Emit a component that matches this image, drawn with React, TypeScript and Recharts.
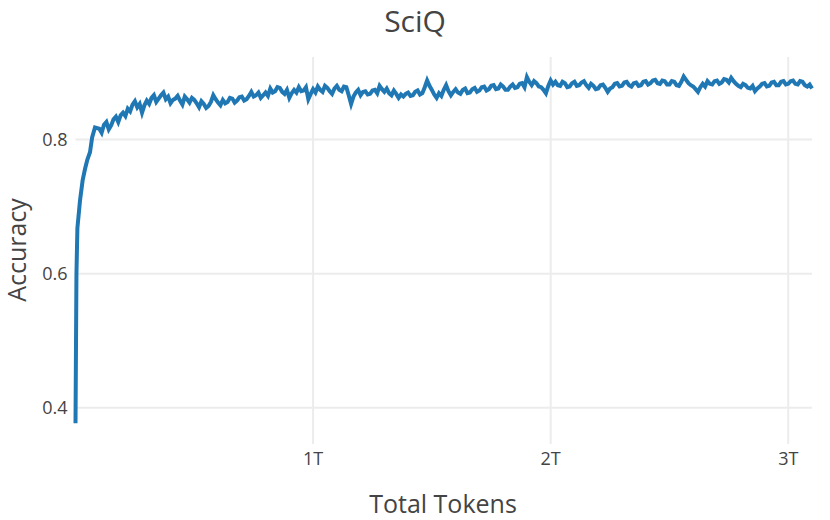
import React from 'react';
import { LineChart, Line, XAxis, YAxis, ReferenceLine } from 'recharts';

// total tokens, in trillions
const tokens = [
  0, 0.004, 0.008, 0.019, 0.03, 0.04, 0.05, 0.061, 0.07, 0.082,
  0.1, 0.11, 0.12, 0.13, 0.14, 0.15, 0.16, 0.17, 0.18, 0.19,
  0.2, 0.21, 0.22, 0.23, 0.24, 0.25, 0.26, 0.27, 0.28, 0.29,
  0.3, 0.31, 0.32, 0.33, 0.34, 0.35, 0.36, 0.37, 0.38, 0.39,
  0.4, 0.41, 0.42, 0.43, 0.44, 0.45, 0.46, 0.47, 0.48, 0.49,
  0.5, 0.51, 0.52, 0.53, 0.54, 0.55, 0.56, 0.57, 0.58, 0.59,
  0.6, 0.61, 0.62, 0.63, 0.64, 0.65, 0.66, 0.67, 0.68, 0.69,
  0.7, 0.71, 0.72, 0.73, 0.74, 0.75, 0.76, 0.77, 0.78, 0.79,
  0.8, 0.81, 0.82, 0.83, 0.84, 0.85, 0.86, 0.87, 0.88, 0.89,
  0.9, 0.91, 0.92, 0.93, 0.94, 0.95, 0.96, 0.97, 0.98, 0.99,
  1.0, 1.01, 1.02, 1.03, 1.04, 1.05, 1.06, 1.07, 1.08, 1.09,
  1.1, 1.11, 1.12, 1.13, 1.14, 1.15, 1.16, 1.17, 1.18, 1.19,
  1.2, 1.21, 1.22, 1.23, 1.24, 1.25, 1.26, 1.27, 1.28, 1.29,
  1.3, 1.31, 1.32, 1.33, 1.34, 1.35, 1.36, 1.37, 1.38, 1.39,
  1.4, 1.41, 1.42, 1.43, 1.44, 1.45, 1.46, 1.47, 1.48, 1.49,
  1.5, 1.51, 1.52, 1.53, 1.54, 1.55, 1.56, 1.57, 1.58, 1.59,
  1.6, 1.61, 1.62, 1.63, 1.64, 1.65, 1.66, 1.67, 1.68, 1.69,
  1.7, 1.71, 1.72, 1.73, 1.74, 1.75, 1.76, 1.77, 1.78, 1.79,
  1.8, 1.81, 1.82, 1.83, 1.84, 1.85, 1.86, 1.87, 1.88, 1.89,
  1.9, 1.91, 1.92, 1.93, 1.94, 1.95, 1.96, 1.97, 1.98, 1.99,
  2.0, 2.01, 2.02, 2.03, 2.04, 2.05, 2.06, 2.07, 2.08, 2.09,
  2.1, 2.11, 2.12, 2.13, 2.14, 2.15, 2.16, 2.17, 2.18, 2.19,
  2.2, 2.21, 2.22, 2.23, 2.24, 2.25, 2.26, 2.27, 2.28, 2.29,
  2.3, 2.31, 2.32, 2.33, 2.34, 2.35, 2.36, 2.37, 2.38, 2.39,
  2.4, 2.41, 2.42, 2.43, 2.44, 2.45, 2.46, 2.47, 2.48, 2.49,
  2.5, 2.51, 2.52, 2.53, 2.54, 2.55, 2.56, 2.57, 2.58, 2.59,
  2.6, 2.61, 2.62, 2.63, 2.64, 2.65, 2.66, 2.67, 2.68, 2.69,
  2.7, 2.71, 2.72, 2.73, 2.74, 2.75, 2.76, 2.77, 2.78, 2.79,
  2.8, 2.81, 2.82, 2.83, 2.84, 2.85, 2.86, 2.87, 2.88, 2.89,
  2.9, 2.91, 2.92, 2.93, 2.94, 2.95, 2.96, 2.97, 2.98, 2.99,
  3.0, 3.01, 3.02, 3.03, 3.04, 3.05, 3.06, 3.07, 3.08, 3.09,
  3.1,
];

const accuracy = [
  0.377, 0.6, 0.668, 0.709, 0.739, 0.756, 0.77, 0.781, 0.803, 0.818,
  0.816, 0.81, 0.822, 0.826, 0.815, 0.821, 0.83, 0.834, 0.826, 0.836,
  0.84, 0.835, 0.846, 0.842, 0.852, 0.857, 0.848, 0.853, 0.84, 0.851,
  0.858, 0.853, 0.862, 0.866, 0.856, 0.861, 0.866, 0.87, 0.86, 0.864,
  0.854, 0.859, 0.861, 0.865, 0.858, 0.852, 0.864, 0.86, 0.855, 0.862,
  0.859, 0.854, 0.848, 0.857, 0.853, 0.847, 0.85, 0.856, 0.866, 0.86,
  0.855, 0.851, 0.859, 0.854, 0.856, 0.862, 0.861, 0.855, 0.858, 0.863,
  0.864, 0.858, 0.86, 0.865, 0.871, 0.864, 0.866, 0.87, 0.862, 0.866,
  0.87, 0.865, 0.876, 0.87, 0.872, 0.878, 0.877, 0.871, 0.868, 0.874,
  0.862, 0.869, 0.874, 0.87, 0.878, 0.872, 0.873, 0.878, 0.86, 0.868,
  0.875, 0.87, 0.879, 0.874, 0.871, 0.88, 0.877, 0.872, 0.868, 0.876,
  0.88, 0.874, 0.872, 0.879, 0.878, 0.866, 0.853, 0.864, 0.87, 0.874,
  0.866, 0.871, 0.872, 0.867, 0.868, 0.873, 0.874, 0.869, 0.88, 0.875,
  0.871, 0.876, 0.869, 0.866, 0.873, 0.868, 0.862, 0.867, 0.864, 0.868,
  0.87, 0.865, 0.866, 0.871, 0.873, 0.867, 0.869, 0.878, 0.888, 0.88,
  0.874, 0.867, 0.862, 0.869, 0.865, 0.874, 0.881, 0.872, 0.866, 0.871,
  0.875, 0.87, 0.868, 0.874, 0.876, 0.869, 0.87, 0.875, 0.877, 0.871,
  0.873, 0.878, 0.879, 0.873, 0.875, 0.88, 0.881, 0.875, 0.876, 0.882,
  0.879, 0.874, 0.874, 0.879, 0.882, 0.877, 0.878, 0.883, 0.884, 0.878,
  0.893, 0.886, 0.881, 0.887, 0.884, 0.879, 0.878, 0.874, 0.869, 0.88,
  0.888, 0.882, 0.886, 0.881, 0.88, 0.886, 0.884, 0.878, 0.879, 0.884,
  0.886, 0.88, 0.881, 0.885, 0.887, 0.881, 0.877, 0.883, 0.88, 0.875,
  0.876, 0.881, 0.882, 0.877, 0.871, 0.876, 0.878, 0.883, 0.884, 0.879,
  0.88, 0.885, 0.886, 0.881, 0.879, 0.884, 0.885, 0.88, 0.881, 0.886,
  0.887, 0.882, 0.884, 0.888, 0.889, 0.884, 0.883, 0.888, 0.887, 0.882,
  0.882, 0.887, 0.886, 0.881, 0.88, 0.886, 0.894, 0.889, 0.884, 0.881,
  0.879, 0.875, 0.871, 0.878, 0.883, 0.879, 0.887, 0.883, 0.882, 0.887,
  0.888, 0.883, 0.885, 0.89, 0.889, 0.885, 0.892, 0.887, 0.883, 0.88,
  0.878, 0.883, 0.881, 0.877, 0.876, 0.88, 0.872, 0.876, 0.879, 0.883,
  0.884, 0.879, 0.88, 0.885, 0.886, 0.881, 0.881, 0.886, 0.887, 0.882,
  0.883, 0.887, 0.888, 0.883, 0.882, 0.887, 0.886, 0.881, 0.879, 0.882,
  0.876,
];

const xTicks = [1, 2, 3];
const yTicks = [0.4, 0.6, 0.8];

const data = tokens.map((t, i) => ({ t, acc: accuracy[i] }));

const font = '"Open Sans", Verdana, Arial, sans-serif';
const textColor = '#444444';
const gridColor = '#ececec';

export default function App() {
  return (
    <div style={{ position: 'fixed', left: 0, top: 0, width: 830, height: 520, background: '#fff' }}>
      <LineChart
        width={830}
        height={520}
        data={data}
        margin={{ top: 57, right: 18, bottom: 46, left: 0 }}
        style={{ fontFamily: font }}
      >
        <XAxis
          dataKey="t"
          type="number"
          domain={[0, 3.1]}
          ticks={xTicks}
          tickFormatter={(v) => `${v}T`}
          axisLine={false}
          tickLine={false}
          height={30}
          tick={{ fill: textColor, fontSize: 18, fontFamily: font }}
        />
        <YAxis
          type="number"
          domain={[0.346, 0.923]}
          ticks={yTicks}
          tickFormatter={(v) => v.toFixed(1)}
          axisLine={false}
          tickLine={false}
          width={75.5}
          allowDataOverflow
          tick={{ fill: textColor, fontSize: 18, fontFamily: font }}
        />
        {xTicks.map((v) => (
          <ReferenceLine key={`x${v}`} x={v} stroke={gridColor} strokeWidth={2} />
        ))}
        {yTicks.map((v) => (
          <ReferenceLine key={`y${v}`} y={v} stroke={gridColor} strokeWidth={2} />
        ))}
        <Line
          type="linear"
          dataKey="acc"
          stroke="#1f77b4"
          strokeWidth={4}
          dot={false}
          isAnimationActive={false}
        />
      </LineChart>
      <svg
        width={830}
        height={520}
        style={{ position: 'absolute', left: 0, top: 0, pointerEvents: 'none', fontFamily: font }}
      >
        <text x={415} y={32} textAnchor="middle" fontSize={30} fill={textColor}>
          SciQ
        </text>
        <text x={443} y={513} textAnchor="middle" fontSize={25} fill={textColor}>
          Total Tokens
        </text>
        <text transform="translate(26,250) rotate(-90)" textAnchor="middle" fontSize={25} fill={textColor}>
          Accuracy
        </text>
      </svg>
    </div>
  );
}
